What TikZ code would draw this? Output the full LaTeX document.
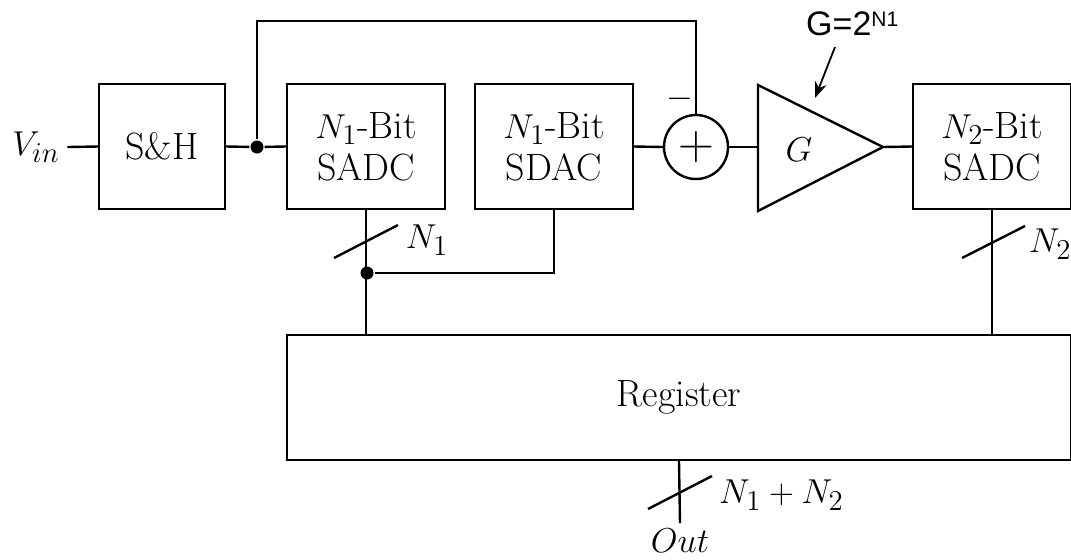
\documentclass[tikz,border=0pt]{standalone}
\usepackage{fontspec}
\newfontfamily\arialf{Liberation Sans}
\usetikzlibrary{arrows.meta,calc}
\begin{document}
\begin{tikzpicture}[x=0.5pt,y=-0.5pt, line width=1.2pt,
  every node/.style={font=\fontsize{19}{21}\selectfont},
  blk/.style={draw, rectangle, minimum width=79pt, minimum height=62.5pt, align=center, inner sep=0pt},
  jdot/.style={circle, fill, inner sep=0pt, minimum size=6.5pt},
  lbl/.style={inner sep=0pt},
  busslash/.style={line width=1.2pt}]
\useasboundingbox (0,0) rectangle (1071,559);

% blocks
\node[blk, minimum width=63pt] (sh) at (162,146.5) {S\&H};
\node[blk] (adc1) at (366,146.5) {$N_1$-Bit\\SADC};
\node[blk] (dac) at (554,146.5) {$N_1$-Bit\\SDAC};
\node[blk] (adc2) at (992,146.5) {$N_2$-Bit\\SADC};
\node[blk, minimum width=392pt] (reg) at (679,397.5) {Register};
\node[draw, circle, minimum size=32pt, inner sep=0pt, font=\fontsize{24}{26}\selectfont] (sum) at (696,147) {$+$};

% amplifier
\coordinate (ttop) at (758,85);
\coordinate (tbot) at (758,211);
\coordinate (ttip) at (883,147);
\coordinate (tin) at (758,147);
\draw (ttop) -- (ttip) -- (tbot) -- cycle;
\node[lbl] (gain) at (799,150) {$G$};

% input
\node (vin) at (36,147) {$V_{in}$};
\draw (vin.east) -- (sh.west);

% S&H to ADC with feedback
\node[jdot] (d1) at (257,147) {};
\draw (sh.east) -- (d1) -- (adc1.west);
\coordinate (fbl) at (257,21);
\draw (d1) -- (fbl) -| (sum.north);
\node[lbl] (minus) at (680,99) {$-$};

\draw (dac.east) -- (sum.west);
\draw (sum.east) -- (tin);
\draw (ttip) -- (adc2.west);

% N1 bus
\node[jdot] (d2) at (367,273) {};
\draw (adc1.south) -- (adc1.south |- reg.north);
\draw (d2) -| (dac.south);
\coordinate (s1a) at (334,258);
\coordinate (s1b) at (398,225);
\draw[busslash] (s1a) -- (s1b);
\node[lbl] (n1) at (427,240) {$N_1$};

% N2 bus
\draw (adc2.south) -- (adc2.south |- reg.north);
\coordinate (s2a) at (962,258);
\coordinate (s2b) at (1025,226);
\draw[busslash] (s2a) -- (s2b);
\node[lbl, anchor=west] (n2) at (1028,244) {$N_2$};

% output
\node[inner sep=2pt] (out) at (680,541) {$Out$};
\coordinate (outend) at (680,523);
\draw (reg.south) -- (outend);
\coordinate (s3a) at (648,509);
\coordinate (s3b) at (712,476);
\draw[busslash] (s3a) -- (s3b);
\node[lbl, anchor=west] (n12) at (718,495) {$N_1+N_2$};

% gain annotation
\node[lbl, anchor=base west, font=\arialf\fontsize{17}{19}\selectfont] (gann) at (805,35) {G=2\raisebox{4.3pt}{\fontsize{10.5}{12}\selectfont N1}};
\coordinate (aa) at (835,47);
\coordinate (ab) at (815,98);
\draw[line width=0.9pt, -{Stealth[length=8pt,width=6pt]}] (aa) -- (ab);
\end{tikzpicture}
\end{document}
